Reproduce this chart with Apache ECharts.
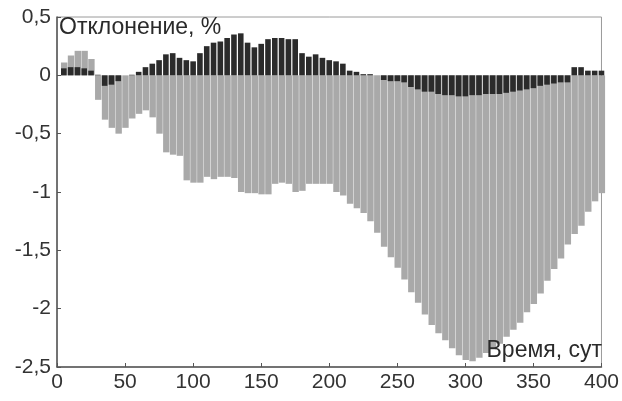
<!DOCTYPE html>
<html>
<head>
<meta charset="utf-8">
<script src="https://cdn.jsdelivr.net/npm/echarts@6/dist/echarts.min.js"></script>
<style>
  html, body { margin: 0; padding: 0; background: #fff; }
  #chart { width: 622px; height: 401px; }
</style>
</head>
<body>
<div id="chart"></div>
<script>
// сутки (шаг 5)
const days = [];
for (let d = 5; d <= 400; d += 5) days.push(d);

// светлые столбцы
const lightValues = [
  0.11, 0.17, 0.21, 0.21, 0.14, -0.21, -0.38, -0.45, -0.50, -0.45,
  -0.37, -0.33, -0.30, -0.36, -0.50, -0.66, -0.68, -0.69, -0.90, -0.92,
  -0.92, -0.87, -0.89, -0.87, -0.87, -0.88, -1.00, -1.01, -1.01, -1.02,
  -1.02, -0.93, -0.92, -0.93, -1.00, -0.99, -0.93, -0.93, -0.93, -0.93,
  -1.00, -1.03, -1.10, -1.14, -1.18, -1.25, -1.35, -1.47, -1.56, -1.65,
  -1.75, -1.86, -1.95, -2.05, -2.14, -2.21, -2.27, -2.34, -2.40, -2.44,
  -2.45, -2.42, -2.38, -2.35, -2.30, -2.24, -2.18, -2.12, -2.03, -1.96,
  -1.87, -1.76, -1.66, -1.57, -1.45, -1.36, -1.29, -1.17, -1.08, -1.01
];

// тёмные столбцы
const darkValues = [
  0.06, 0.07, 0.07, 0.06, 0.04, 0.005, -0.09, -0.08, -0.05, 0.0,
  0.005, 0.03, 0.07, 0.10, 0.13, 0.18, 0.19, 0.15, 0.13, 0.12,
  0.19, 0.25, 0.28, 0.29, 0.32, 0.35, 0.36, 0.28, 0.24, 0.27,
  0.31, 0.32, 0.32, 0.31, 0.31, 0.19, 0.16, 0.18, 0.15, 0.13,
  0.12, 0.10, 0.04, 0.03, 0.01, 0.01, 0.0, -0.04, -0.05, -0.05,
  -0.06, -0.10, -0.12, -0.14, -0.14, -0.16, -0.17, -0.17, -0.18, -0.18,
  -0.17, -0.17, -0.16, -0.16, -0.16, -0.15, -0.14, -0.13, -0.12, -0.11,
  -0.09, -0.08, -0.07, -0.06, -0.06, 0.07, 0.07, 0.04, 0.04, 0.04
];

const yTitle = 'Отклонение, %';
const xTitle = 'Время, сут';

const font = '"Liberation Sans", Arial, sans-serif';
const chart = echarts.init(document.getElementById('chart'));

chart.setOption({
  animation: false,
  backgroundColor: '#ffffff',
  grid: { left: 57, right: 18, top: 17, bottom: 34, show: true, borderColor: '#9a9a9a', borderWidth: 1 },
  xAxis: {
    type: 'value', min: 0, max: 400, interval: 50,
    axisLine: { onZero: false, lineStyle: { color: '#555', width: 1.5 } },
    axisTick: { inside: true, length: 4, lineStyle: { color: '#555' } },
    axisLabel: { color: '#333', fontSize: 21, fontFamily: font, margin: 5 },
    splitLine: { show: false }
  },
  yAxis: {
    type: 'value', min: -2.5, max: 0.5, interval: 0.5,
    axisLine: { show: true, lineStyle: { color: '#555', width: 1.5 } },
    axisTick: { show: true, inside: true, length: 4, lineStyle: { color: '#555' } },
    axisLabel: {
      color: '#333', fontSize: 21, fontFamily: font, margin: 6,
      formatter: v => (Math.abs(v) < 1e-9 ? '0' : String(v).replace('.', ','))
    },
    splitLine: { show: false }
  },
  series: [
    {
      type: 'bar', name: 'light',
      data: days.map((d, i) => [d, lightValues[i]]),
      barWidth: 6.4, barGap: '-100%',
      itemStyle: { color: '#a9a9a9' }
    },
    {
      type: 'bar', name: 'dark',
      data: days.map((d, i) => [d, darkValues[i]]),
      barWidth: 5.6, barGap: '-100%',
      itemStyle: { color: '#2b2b2b' }
    }
  ],
  graphic: [
    { type: 'text', left: 59, top: 16, z: 100,
      style: { text: yTitle, font: '23px ' + font, fill: '#2a2a2a' } },
    { type: 'text', right: 20, top: 339, z: 100,
      style: { text: xTitle, font: '23px ' + font, fill: '#2a2a2a' } }
  ]
});
</script>
</body>
</html>
